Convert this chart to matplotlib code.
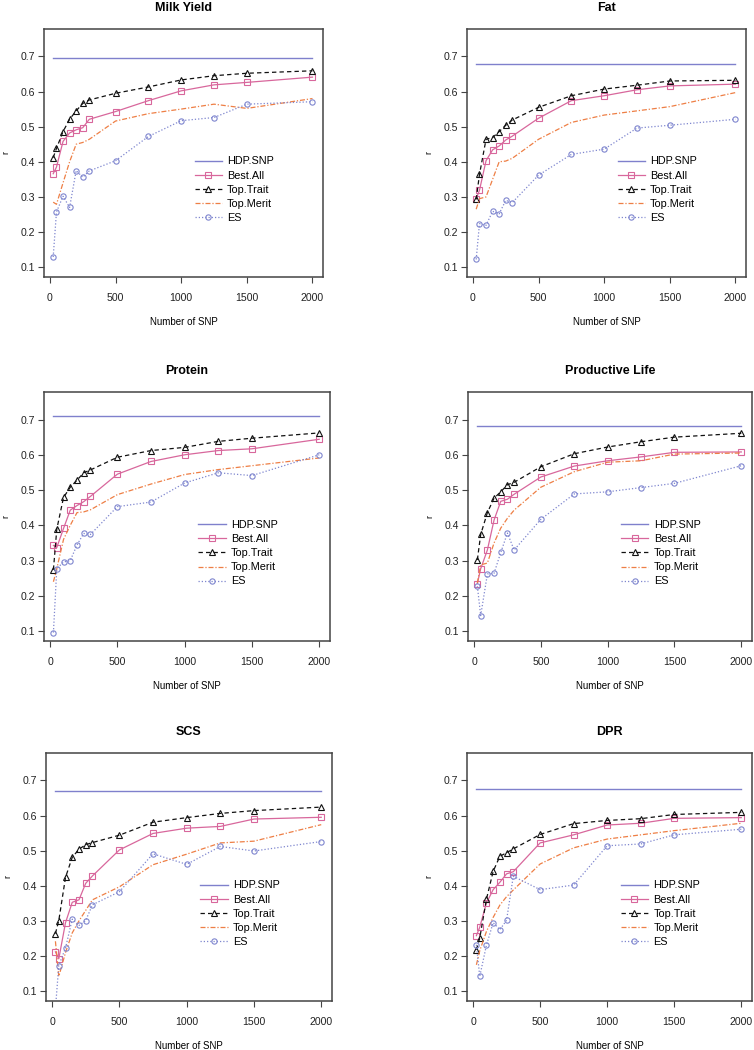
import numpy as np
import matplotlib
matplotlib.use('Agg')
import matplotlib.pyplot as plt

plt.rcParams['font.family'] = ['Liberation Sans', 'DejaVu Sans']

# number of SNP on the x axis
n_snp = [25, 50, 100, 150, 200, 250, 300, 500, 750, 1000, 1250, 1500, 2000]
series_names = ['HDP.SNP', 'Best.All', 'Top.Trait', 'Top.Merit', 'ES']
titles = ['Milk Yield', 'Fat', 'Protein', 'Productive Life', 'SCS', 'DPR']

# HDP.SNP reference accuracy for each trait
hdp_snp = [0.695, 0.678, 0.709, 0.683, 0.671, 0.676]

milk_best = [0.366, 0.385, 0.458, 0.482, 0.491, 0.497, 0.521, 0.543, 0.574, 0.602, 0.619, 0.626, 0.641]
milk_trait = [0.412, 0.438, 0.486, 0.521, 0.545, 0.566, 0.576, 0.595, 0.613, 0.633, 0.645, 0.652, 0.659]
milk_merit = [0.285, 0.279, 0.34, 0.40, 0.45, 0.455, 0.464, 0.516, 0.537, 0.55, 0.564, 0.552, 0.58]
milk_es = [0.129, 0.257, 0.302, 0.27, 0.375, 0.356, 0.374, 0.403, 0.472, 0.517, 0.526, 0.564, 0.571]

fat_best = [0.295, 0.319, 0.403, 0.434, 0.445, 0.462, 0.473, 0.524, 0.574, 0.588, 0.605, 0.616, 0.621]
fat_trait = [0.293, 0.364, 0.464, 0.469, 0.486, 0.504, 0.519, 0.555, 0.588, 0.607, 0.618, 0.630, 0.632]
fat_merit = [0.265, 0.295, 0.30, 0.35, 0.40, 0.402, 0.41, 0.464, 0.512, 0.533, 0.545, 0.557, 0.597]
fat_es = [0.122, 0.224, 0.219, 0.259, 0.252, 0.29, 0.284, 0.362, 0.421, 0.436, 0.496, 0.504, 0.521]

prot_best = [0.343, 0.337, 0.391, 0.443, 0.456, 0.467, 0.482, 0.545, 0.581, 0.60, 0.612, 0.617, 0.644]
prot_trait = [0.274, 0.389, 0.479, 0.508, 0.528, 0.549, 0.557, 0.593, 0.612, 0.621, 0.638, 0.647, 0.662]
prot_merit = [0.24, 0.277, 0.36, 0.40, 0.436, 0.438, 0.444, 0.487, 0.517, 0.544, 0.558, 0.569, 0.591]
prot_es = [0.096, 0.277, 0.296, 0.300, 0.344, 0.377, 0.374, 0.453, 0.466, 0.52, 0.549, 0.541, 0.60]

pl_best = [0.235, 0.277, 0.33, 0.415, 0.468, 0.474, 0.488, 0.537, 0.568, 0.583, 0.594, 0.607, 0.608]
pl_trait = [0.302, 0.374, 0.436, 0.477, 0.495, 0.515, 0.522, 0.566, 0.603, 0.622, 0.637, 0.65, 0.661]
pl_merit = [0.236, 0.288, 0.293, 0.35, 0.392, 0.42, 0.443, 0.508, 0.552, 0.579, 0.583, 0.602, 0.605]
pl_es = [0.227, 0.144, 0.262, 0.264, 0.323, 0.378, 0.33, 0.417, 0.489, 0.495, 0.507, 0.519, 0.569]

scs_best = [0.212, 0.192, 0.295, 0.353, 0.36, 0.407, 0.428, 0.502, 0.549, 0.564, 0.569, 0.59, 0.595]
scs_trait = [0.264, 0.301, 0.424, 0.481, 0.504, 0.517, 0.523, 0.544, 0.581, 0.594, 0.606, 0.614, 0.624]
scs_merit = [0.242, 0.142, 0.21, 0.266, 0.30, 0.33, 0.36, 0.397, 0.46, 0.49, 0.522, 0.527, 0.574]
scs_es = [0.05, 0.173, 0.223, 0.305, 0.287, 0.301, 0.346, 0.383, 0.491, 0.461, 0.512, 0.499, 0.526]

dpr_best = [0.258, 0.282, 0.351, 0.389, 0.41, 0.434, 0.44, 0.522, 0.545, 0.573, 0.578, 0.592, 0.594]
dpr_trait = [0.218, 0.251, 0.362, 0.441, 0.484, 0.494, 0.505, 0.546, 0.577, 0.586, 0.591, 0.603, 0.609]
dpr_merit = [0.175, 0.215, 0.27, 0.31, 0.345, 0.369, 0.388, 0.462, 0.508, 0.533, 0.545, 0.557, 0.578]
dpr_es = [0.232, 0.142, 0.231, 0.295, 0.275, 0.302, 0.427, 0.389, 0.402, 0.514, 0.519, 0.545, 0.561]

panels = [
    (milk_best, milk_trait, milk_merit, milk_es),
    (fat_best, fat_trait, fat_merit, fat_es),
    (prot_best, prot_trait, prot_merit, prot_es),
    (pl_best, pl_trait, pl_merit, pl_es),
    (scs_best, scs_trait, scs_merit, scs_es),
    (dpr_best, dpr_trait, dpr_merit, dpr_es),
]

# axes boxes in pixels: left, right, top, bottom
W, H = 754, 1050
boxes = [(44, 323, 29, 277), (467, 746, 29, 277),
         (44, 330, 392, 641), (468, 752, 392, 641),
         (46, 332, 753, 1001), (467, 752, 753, 1001)]

c_hdp = '#7f80cc'
c_best = '#d8679c'
c_trait = '#111111'
c_merit = '#ee7f45'
c_es = '#7f86cf'
frame_col = '#444444'

fig = plt.figure(figsize=(W / 100, H / 100), dpi=100)

for i, (l, r, t, b) in enumerate(boxes):
    ax = fig.add_axes([l / W, 1 - b / H, (r - l) / W, (b - t) / H])
    best, trait, merit, es = panels[i]
    ax.plot(n_snp, [hdp_snp[i]] * len(n_snp), color=c_hdp, lw=1.0, label='HDP.SNP')
    ax.plot(n_snp, best, color=c_best, lw=0.9, marker='s', ms=4.0, mfc='none',
            mew=0.8, label='Best.All')
    ax.plot(n_snp, trait, color=c_trait, lw=0.9, ls=(0, (3.5, 2.5)), marker='^', ms=5.0,
            mfc='none', mew=0.8, label='Top.Trait')
    ax.plot(n_snp, merit, color=c_merit, lw=0.9, ls=(0, (4, 1.5, 1, 1.5)), label='Top.Merit')
    ax.plot(n_snp, es, color=c_es, lw=0.9, ls=(0, (1, 1.6)), marker='o', ms=3.8,
            mfc='none', mew=0.8, label='ES')

    ax.set_xlim(-45, 2080)
    ax.set_ylim(0.072, 0.778)
    ax.set_xticks([0, 500, 1000, 1500, 2000])
    ax.set_yticks([0.1, 0.2, 0.3, 0.4, 0.5, 0.6, 0.7])
    ax.set_yticklabels(['0.1', '0.2', '0.3', '0.4', '0.5', '0.6', '0.7'])
    ax.tick_params(axis='both', direction='out', length=4.5, width=0.8, color=frame_col,
                   labelsize=7.6, labelcolor='#222222')
    ax.tick_params(axis='x', pad=7)
    ax.tick_params(axis='y', pad=2)
    for s in ax.spines.values():
        s.set_color(frame_col)
        s.set_linewidth(1.1)

    ax.set_title(titles[i], fontsize=9, fontweight='bold', pad=13)
    ax.set_xlabel('Number of SNP', fontsize=7, labelpad=10)
    ax.set_ylabel('r', fontsize=6.5, labelpad=7)

    ax.legend(loc='upper left', bbox_to_anchor=(0.54, 0.486), frameon=False,
              fontsize=7.8, borderpad=0, borderaxespad=0, handlelength=2.5,
              handletextpad=0.5, labelspacing=0.38, numpoints=1)

fig.savefig('out.png', dpi=100)
